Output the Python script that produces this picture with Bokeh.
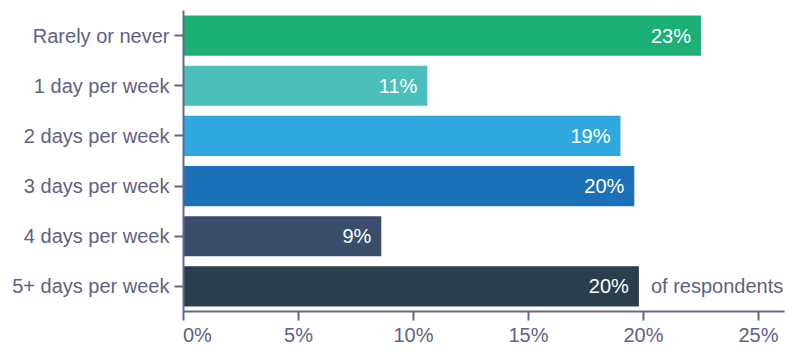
from bokeh.plotting import figure
from bokeh.models import ColumnDataSource, Range1d, FactorRange, FixedTicker, CustomJSTickFormatter, LabelSet
from bokeh.core.properties import value
from bokeh.embed import file_html
from bokeh.resources import INLINE

categories = ["Rarely or never", "1 day per week", "2 days per week",
              "3 days per week", "4 days per week", "5+ days per week"]
values = [22.5, 10.6, 19.0, 19.6, 8.6, 19.8]
value_labels = ["23%", "11%", "19%", "20%", "9%", "20%"]
colors = ["#1bb075", "#4bbfbb", "#2fa8de", "#1b71b8", "#3a4e6c", "#2a3e4c"]
x_ticks = [0, 5, 10, 15, 20, 25]
unit_note = "of respondents"

FONT = "Liberation Sans"
AXIS_COLOR = "#656884"
TEXT_COLOR = "#5e6283"
FS = "20px"

src = ColumnDataSource(dict(cat=categories, val=values, lab=value_labels, col=colors))
note_src = ColumnDataSource(dict(cat=[categories[-1]], val=[values[-1]], lab=[unit_note]))

p = figure(width=792, height=354, output_backend="svg", toolbar_location=None,
           y_range=FactorRange(*reversed(categories)),
           x_range=Range1d(0, 601 / 23.0),
           min_border_left=183, min_border_right=8, min_border_top=10, min_border_bottom=43)
p.outline_line_color = None
p.grid.grid_line_color = None
p.background_fill_color = "white"

p.hbar(y="cat", right="val", left=0, height=0.8, color="col", source=src, line_color=None)

labels = LabelSet(x="val", y="cat", text="lab", source=src, x_offset=-10,
                  text_align="right", text_baseline="middle", text_color="white",
                  text_font=value(FONT), text_font_size=FS)
p.add_layout(labels)

note = LabelSet(x="val", y="cat", text="lab", source=note_src, x_offset=12,
                text_align="left", text_baseline="middle", text_color=TEXT_COLOR,
                text_font=value(FONT), text_font_size=FS)
p.add_layout(note)

p.xaxis.ticker = FixedTicker(ticks=x_ticks)
# the first tick label sits right of the axis origin (padded with no-break spaces)
p.xaxis.formatter = CustomJSTickFormatter(
    code="return tick === 0 ? '\\u00a0\\u00a0\\u00a0\\u00a0\\u00a00%' : tick + '%';")

for ax in (p.xaxis, p.yaxis):
    ax.axis_line_color = AXIS_COLOR
    ax.axis_line_width = 2
    ax.major_tick_line_color = AXIS_COLOR
    ax.major_tick_line_width = 2
    ax.minor_tick_line_color = None
    ax.major_tick_in = 0
    ax.major_label_text_color = TEXT_COLOR
    ax.major_label_text_font = FONT
    ax.major_label_text_font_size = FS

p.xaxis.major_tick_out = 9
p.xaxis.major_label_standoff = 3
p.yaxis.major_tick_out = 9
p.yaxis.major_label_standoff = 5

open("out.html", "w").write(file_html(p, INLINE))
